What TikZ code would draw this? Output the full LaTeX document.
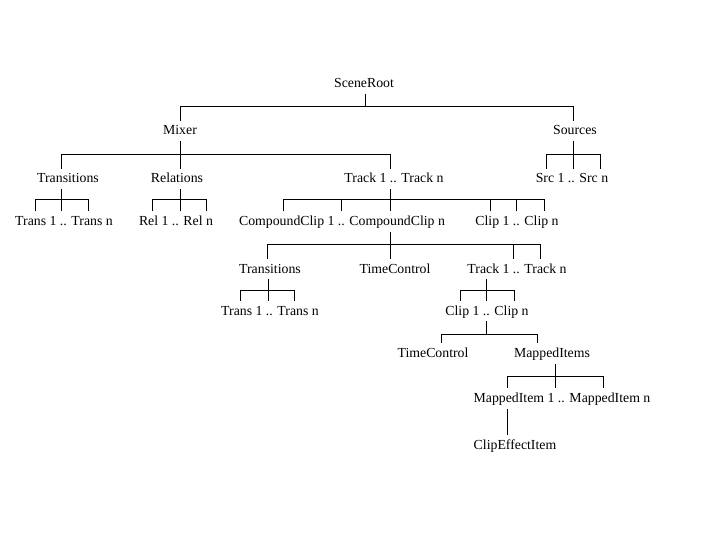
\documentclass[tikz,border=0pt]{standalone}
\usepackage{fontspec}
\setmainfont{Liberation Serif}
\begin{document}
\begin{tikzpicture}[x=1pt,y=-1pt,
  tn/.style={font=\fontsize{13.8}{16}\selectfont, inner xsep=0pt, inner ysep=5pt,
             text height=9.2pt, text depth=1pt, anchor=base},
  ln/.style={line width=1pt, black}]
\fill[white] (0,0) rectangle (720,540);
\useasboundingbox (0,0) rectangle (720,540);
% nodes
\node[tn] (root) at (364,88) {SceneRoot};
\node[tn] (mixer) at (180,135) {Mixer};
\node[tn] (sources) at (575,135) {Sources};
\node[tn] (tr1) at (68,183) {Transitions};
\node[tn] (rel) at (177,183) {Relations};
\node[tn] (trk1) at (394,183) {Track 1 .. Track n};
\node[tn] (src) at (572,183) {Src 1 .. Src n};
\node[tn] (trs1) at (64,225.5) {Trans 1 .. Trans n};
\node[tn] (rels) at (176,225.5) {Rel 1 .. Rel n};
\node[tn] (cc) at (342,225.5) {CompoundClip 1 .. CompoundClip n};
\node[tn] (clips1) at (517,225.5) {Clip 1 .. Clip n};
\node[tn] (tr2) at (270,273) {Transitions};
\node[tn] (tc1) at (395,273) {TimeControl};
\node[tn] (trk2) at (517,273) {Track 1 .. Track n};
\node[tn] (trs2) at (270,315) {Trans 1 .. Trans n};
\node[tn] (clips2) at (487,315) {Clip 1 .. Clip n};
\node[tn] (tc2) at (433,357.5) {TimeControl};
\node[tn] (mi) at (552,357.5) {MappedItems};
\node[tn] (mis) at (562,402.5) {MappedItem 1 .. MappedItem n};
\node[tn] (cei) at (515,449) {ClipEffectItem};
% SceneRoot
\draw[ln] ([xshift=1.3pt]root.south) -- ++(0,12) coordinate (b1);
\draw[ln] (mixer.north) |- (b1) -| ([xshift=-1.7pt]sources.north);
% Mixer
\draw[ln] (mixer.south) -- ++(0,13) coordinate (b2);
\draw[ln] ([xshift=-7pt]tr1.north) |- (b2) -| ([xshift=-3.7pt]trk1.north);
\draw[ln] ([xshift=3pt]rel.north) |- (b2);
% Sources
\draw[ln] ([xshift=-1.7pt]sources.south) -- ++(0,13) coordinate (b3);
\draw[ln] ([xshift=-25.3pt]src.north) |- (b3) -| ([xshift=28pt]src.north);
\draw[ln] ([xshift=1.3pt]src.north) |- (b3);
% Transitions (level 3)
\draw[ln] ([xshift=-7pt]tr1.south) -- ++(0,10) coordinate (b4);
\draw[ln] ([xshift=-29pt]trs1.north) |- (b4) -| ([xshift=24pt]trs1.north);
\draw[ln] ([xshift=-3pt]trs1.north) |- (b4);
% Relations
\draw[ln] ([xshift=3pt]rel.south) -- ++(0,10) coordinate (b5);
\draw[ln] ([xshift=-24pt]rels.north) |- (b5) -| ([xshift=30pt]rels.north);
\draw[ln] ([xshift=4pt]rels.north) |- (b5);
% Track 1 .. Track n (level 3)
\draw[ln] ([xshift=-3.7pt]trk1.south) -- ++(0,10) coordinate (b6);
\draw[ln] ([xshift=-59pt]cc.north) |- (b6) -| ([xshift=27pt]clips1.north);
\draw[ln] ([xshift=-0.3pt]cc.north) |- (b6);
\draw[ln] ([xshift=48.3pt]cc.north) |- (b6);
\draw[ln] ([xshift=-26.3pt]clips1.north) |- (b6);
\draw[ln] ([xshift=-1pt]clips1.north) |- (b6);
% CompoundClip
\draw[ln] ([xshift=48.3pt]cc.south) -- ++(0,12.5) coordinate (b7);
\draw[ln] ([xshift=-2.3pt]tr2.north) |- (b7) -| ([xshift=23pt]trk2.north);
\draw[ln] ([xshift=-4.7pt]tc1.north) |- (b7);
\draw[ln] ([xshift=-3.7pt]trk2.north) |- (b7);
% Transitions (level 5)
\draw[ln] ([xshift=-2pt]tr2.south) -- ++(0,11) coordinate (b8);
\draw[ln] ([xshift=-29.3pt]trs2.north) |- (b8) -| ([xshift=24.3pt]trs2.north);
\draw[ln] ([xshift=-2pt]trs2.north) |- (b8);
% Track 1 .. Track n (level 5)
\draw[ln] ([xshift=-30.3pt]trk2.south) -- ++(0,11) coordinate (b9);
\draw[ln] ([xshift=-27pt]clips2.north) |- (b9) -| ([xshift=27pt]clips2.north);
\draw[ln] ([xshift=-0.3pt]clips2.north) |- (b9);
% Clip 1 .. Clip n (level 6)
\draw[ln] ([xshift=-0.3pt]clips2.south) -- ++(0,13) coordinate (b10);
\draw[ln] ([xshift=8pt]tc2.north) |- (b10) -| ([xshift=-14.3pt]mi.north);
% MappedItems
\draw[ln] ([xshift=3.7pt]mi.south) -- ++(0,12.5) coordinate (b11);
\draw[ln] ([xshift=-54.7pt]mis.north) |- (b11) -| ([xshift=41.3pt]mis.north);
\draw[ln] ([xshift=-6.3pt]mis.north) |- (b11);
% MappedItem -> ClipEffectItem
\draw[ln] ([xshift=-55pt]mis.south) -- ([xshift=-8pt]cei.north);
\end{tikzpicture}
\end{document}
